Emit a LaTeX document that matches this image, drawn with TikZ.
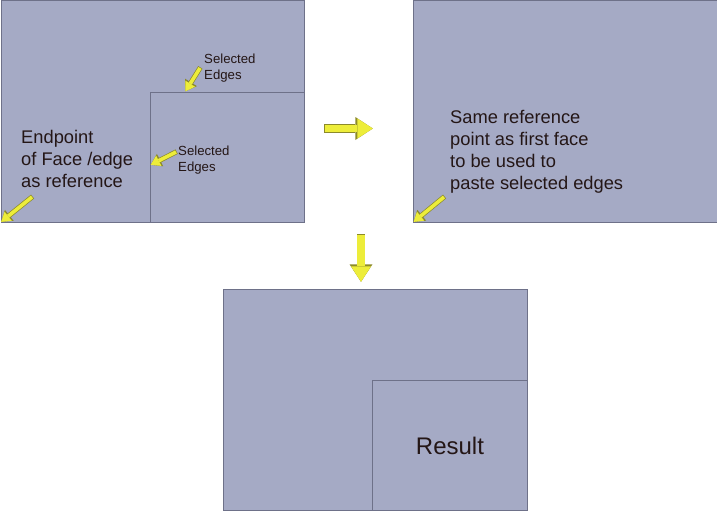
\documentclass[tikz,border=0pt]{standalone}
\usepackage{fontspec}
\setmainfont{Liberation Sans}
\usetikzlibrary{arrows.meta}
\definecolor{facefill}{HTML}{A5AAC5}
\definecolor{faceedge}{HTML}{6E7189}
\definecolor{ptryellow}{HTML}{EDED3A}
\definecolor{ptredge}{HTML}{8C8A2A}
\definecolor{inktext}{HTML}{241616}
\begin{document}
\begin{tikzpicture}[x=1pt, y=-1pt,
        face/.style={draw=faceedge, fill=facefill, line width=0.9pt, inner sep=0pt, anchor=north west},
        note/.style={text=inktext, align=left, inner sep=0pt, anchor=north west, font=\fontsize{18.3}{22}\selectfont},
        smallnote/.style={note, font=\fontsize{13.2}{16}\selectfont},
        pointer/.style={draw=ptryellow, line width=3.6pt, shorten >=0.8pt,
            -{Triangle[length=9pt, width=11.5pt, line width=0pt]},
            preaction={draw=ptredge, line width=5pt, shorten <=-0.7pt, -{Triangle[length=10.5pt, width=14pt, line width=0pt]}}},
        bigarrow/.style={draw=ptryellow, line width=7.4pt, shorten >=1.2pt,
            -{Triangle[length=15.5pt, width=20pt, line width=0pt]},
            preaction={draw=ptredge, line width=8.8pt, shorten <=-0.7pt, -{Triangle[length=17.5pt, width=23pt, line width=0pt]}}}]
    \useasboundingbox (0,0) rectangle (717,511);
    % first face with the selected edges
    \node (faceA) at (0.5, 0.5) [face, minimum width=303.5pt, minimum height=221pt] {};
    \node (innerA) at (150, 92) [face, minimum width=154pt, minimum height=129.5pt] {};
    % second face
    \node (faceB) at (413, 0.5) [face, minimum width=310pt, minimum height=221pt] {};
    % result
    \node (faceC) at (223, 289) [face, minimum width=304pt, minimum height=221pt] {};
    \node (innerC) at (372, 380) [face, minimum width=155pt, minimum height=130pt, text=inktext, font=\fontsize{24}{28}\selectfont] {Result};
    \node (endNote) at (21, 130) [note] {Endpoint\\of Face /edge\\as reference};
    \node (selTop) at (204, 54) [smallnote] {Selected\\Edges};
    \node (selMid) at (178, 146) [smallnote] {Selected\\Edges};
    \node (sameNote) at (450, 110) [note] {Same reference\\point as first face\\to be used to\\paste selected edges};
    \coordinate (endTail) at (32, 197);
    \coordinate (topTail) at (200, 68);
    \coordinate (midTail) at (176, 152);
    \coordinate (sameTail) at (444, 197);
    \coordinate (rgtTail) at (325, 128.5);
    \coordinate (rgtHead) at (374, 128.5);
    \coordinate (dnTail) at (361, 235);
    \coordinate (dnHead) at (361, 283);
    \draw[pointer] (endTail) -- (faceA.south west);
    \draw[pointer] (topTail) -- ([xshift=35pt]innerA.north west);
    \draw[pointer] (midTail) -- ([yshift=-8pt]innerA.west);
    \draw[pointer] (sameTail) -- (faceB.south west);
    \draw[bigarrow] (rgtTail) -- (rgtHead);
    \draw[bigarrow] (dnTail) -- (dnHead);
\end{tikzpicture}
\end{document}
